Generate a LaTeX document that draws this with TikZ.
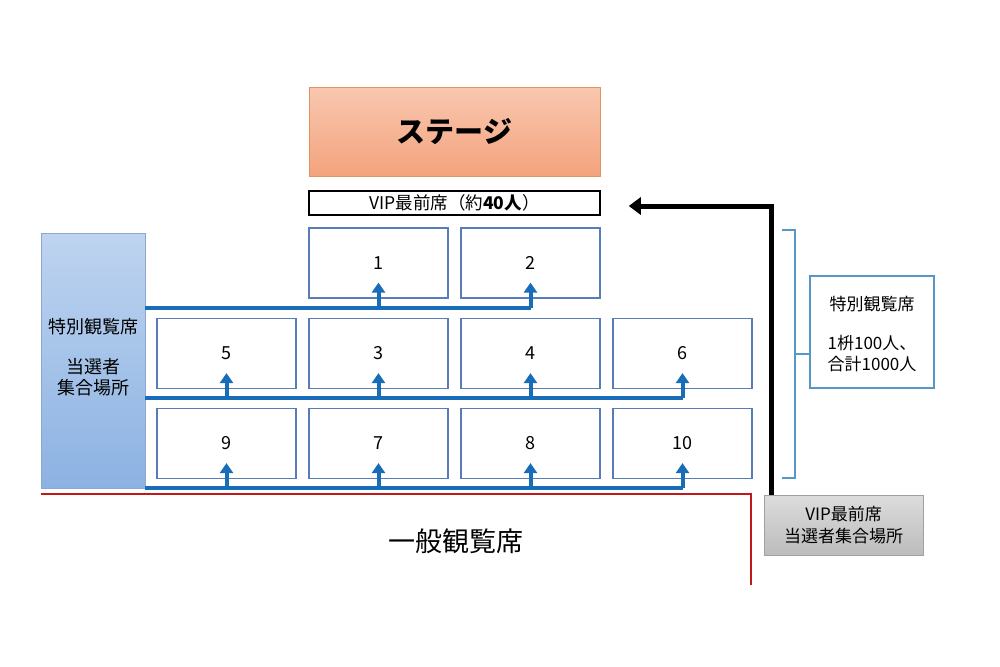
\documentclass[tikz,border=0pt]{standalone}
\usepackage{fontspec}
\setmainfont{Noto Sans CJK JP}
\usepackage{tikz}
\usetikzlibrary{arrows.meta}

\definecolor{StageTop}{RGB}{249,199,176}
\definecolor{StageBot}{RGB}{243,163,124}
\definecolor{StageLine}{RGB}{228,145,98}
\definecolor{HallTop}{RGB}{190,212,240}
\definecolor{HallBot}{RGB}{140,178,226}
\definecolor{HallLine}{RGB}{140,168,210}
\definecolor{SeatLine}{RGB}{88,124,184}
\definecolor{FeedBlue}{RGB}{24,108,184}
\definecolor{NoteLine}{RGB}{84,152,200}
\definecolor{GrayTop}{RGB}{220,220,220}
\definecolor{GrayBot}{RGB}{188,188,188}
\definecolor{GrayLine}{RGB}{160,160,160}
\definecolor{LineRed}{RGB}{196,24,24}

\tikzset{
  seat/.style={draw=SeatLine, line width=1.2pt, fill=white, minimum width=139pt, minimum height=70pt, inner sep=0pt, font=\fontsize{18}{20}\selectfont},
  feed/.style={draw=FeedBlue, line width=4.5pt},
  feedarrow/.style={draw=FeedBlue, line width=4pt, -{Triangle[length=10pt,width=13pt]}},
  viparrow/.style={draw=black, line width=5pt, -{Triangle[length=12pt,width=17pt]}},
  brace/.style={draw=NoteLine, line width=1.3pt},
  midtext/.style={align=center, inner sep=0pt, font=\fontsize{17}{21}\selectfont}
}

\begin{document}
\begin{tikzpicture}[x=1pt,y=-1pt]
\useasboundingbox[fill=white] (0,0) rectangle (1000,666);

% stage and front row
\node[draw=StageLine, line width=1pt, top color=StageTop, bottom color=StageBot, minimum width=291pt, minimum height=88pt, font=\fontsize{29}{32}\selectfont\bfseries] (stage) at (454.5,132) {ステージ};
\node[draw=black, line width=1.5pt, fill=white, minimum width=291pt, minimum height=24pt, inner sep=0pt, font=\fontsize{17.5}{20}\selectfont] (vip) at (454.5,203) {VIP最前席（約\textbf{40人}）};

% meeting point on the left
\node[draw=HallLine, line width=1pt, top color=HallTop, bottom color=HallBot, minimum width=104pt, minimum height=255pt] (hall) at (93,360.5) {};
\node[midtext, font=\fontsize{18}{21}\selectfont] (halltext) at (93,357) {特別観覧席\\[19pt]当選者\\集合場所};

% seat blocks
\node[seat] (s1) at (378.5,263) {1};
\node[seat] (s2) at (530.5,263) {2};
\node[seat] (s5) at (226.5,353.5) {5};
\node[seat] (s3) at (378.5,353.5) {3};
\node[seat] (s4) at (530.5,353.5) {4};
\node[seat] (s6) at (682.5,353.5) {6};
\node[seat] (s9) at (226.5,443.5) {9};
\node[seat] (s7) at (378.5,443.5) {7};
\node[seat] (s8) at (530.5,443.5) {8};
\node[seat] (s10) at (682.5,443.5) {10};

% blue guide lines
\coordinate (f1) at (145,308);
\coordinate (f2) at (145,398);
\coordinate (f3) at (145,488);
\draw[feed] (f1) -- (f1 -| s2.south);
\draw[feed] (f2) -- (f2 -| s6.south);
\draw[feed] (f3) -- (f3 -| s10.south);
\draw[feedarrow] (f1 -| s1.south) -- ([yshift=16pt]s1.south);
\draw[feedarrow] (f1 -| s2.south) -- ([yshift=16pt]s2.south);
\draw[feedarrow] (f2 -| s5.south) -- ([yshift=16pt]s5.south);
\draw[feedarrow] (f2 -| s3.south) -- ([yshift=16pt]s3.south);
\draw[feedarrow] (f2 -| s4.south) -- ([yshift=16pt]s4.south);
\draw[feedarrow] (f2 -| s6.south) -- ([yshift=16pt]s6.south);
\draw[feedarrow] (f3 -| s9.south) -- ([yshift=16pt]s9.south);
\draw[feedarrow] (f3 -| s7.south) -- ([yshift=16pt]s7.south);
\draw[feedarrow] (f3 -| s8.south) -- ([yshift=16pt]s8.south);
\draw[feedarrow] (f3 -| s10.south) -- ([yshift=16pt]s10.south);

% right side note
\node[draw=NoteLine, line width=1.2pt, fill=white, minimum width=124pt, minimum height=112pt] (note) at (872,332) {};
\node[midtext] (notetext) at (872,334) {特別観覧席\\[18pt]1枡100人、\\合計1000人};
\draw[brace] (782,230) -- (795,230) -- (795,478) -- (782,478);
\draw[brace] (795,354) -- (note.west |- 0,354);

% VIP meeting point
\node[draw=GrayLine, line width=1pt, top color=GrayTop, bottom color=GrayBot, minimum width=159pt, minimum height=60pt, align=center, inner sep=0pt, font=\fontsize{17}{22}\selectfont] (gray) at (843.5,525) {VIP最前席\\当選者集合場所};
\coordinate (vipup) at (771,206);
\draw[viparrow] (gray.north -| vipup) |- ([xshift=28pt,yshift=-3pt]vip.east);

% general seats
\draw[draw=LineRed, line width=1.5pt] (41,494) -- (751,494) -- (751,585);
\node[font=\fontsize{27}{30}\selectfont] (general) at (456,541) {一般観覧席};

\end{tikzpicture}
\end{document}
